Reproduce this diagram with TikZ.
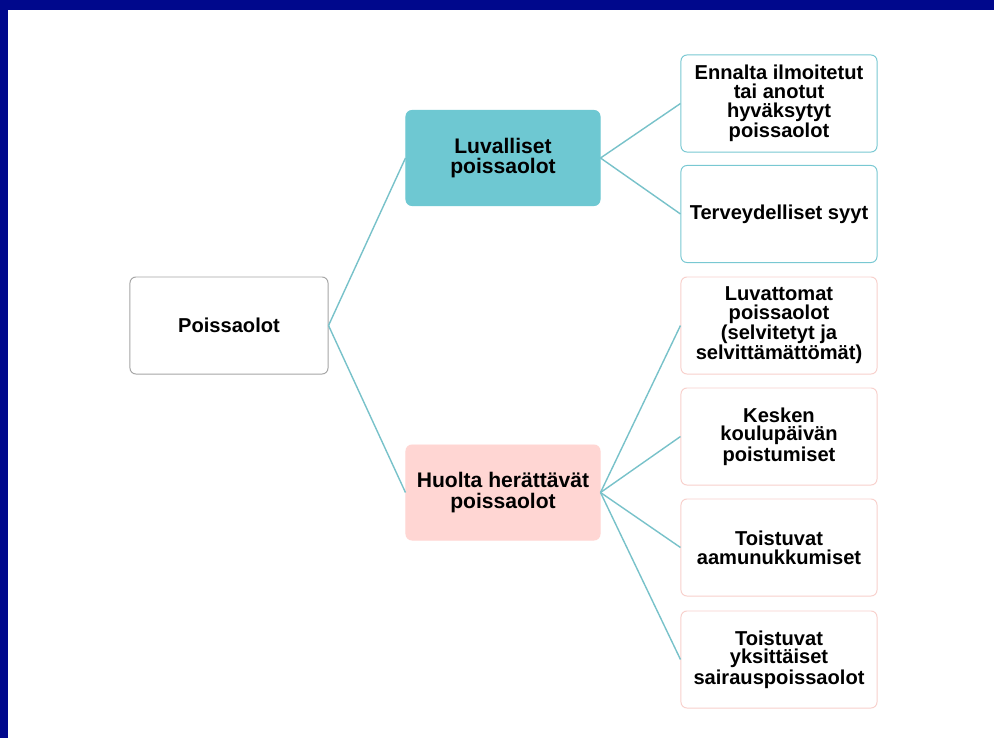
\documentclass[tikz,border=0pt]{standalone}
\usepackage{fontspec}
\setmainfont{Liberation Sans}
\usetikzlibrary{positioning}

\definecolor{navyband}{RGB}{0,8,140}
\definecolor{tealfill}{RGB}{110,200,210}
\definecolor{tealline}{RGB}{120,194,202}
\definecolor{tealedge}{RGB}{120,200,210}
\definecolor{pinkfill}{RGB}{255,214,211}
\definecolor{pinkedge}{RGB}{248,208,204}
\definecolor{grayedge}{RGB}{165,165,165}

\begin{document}
\begin{tikzpicture}[%
    x=0.025cm, y=-0.025cm,      % pixel grid, y going down
    font=\fontsize{14.3}{13.3}\selectfont\bfseries
    ]

\tikzset{
    base/.style={draw, rounded corners=0.15cm, align=center, line width=0.7pt},
    root/.style={base, draw=grayedge, fill=white, minimum width=4.95cm, minimum height=2.425cm},
    mid/.style={base, font=\fontsize{15}{14.7}\selectfont\bfseries, minimum width=4.85cm, minimum height=2.375cm},
    okbox/.style={mid, draw=tealfill, fill=tealfill},
    warnbox/.style={mid, draw=pinkfill, fill=pinkfill},
    okleaf/.style={base, draw=tealedge, fill=white, minimum width=4.9cm, minimum height=2.425cm},
    warnleaf/.style={base, draw=pinkedge, fill=white, minimum width=4.9cm, minimum height=2.425cm},
    % connectors
    link/.style={draw=tealline, line width=1pt}
}

%% Background and frame
\fill [white] (0,0) rectangle (994,738);
\fill [navyband] (0,0) rectangle (994,10);
\fill [navyband] (0,0) rectangle (8,738);
\useasboundingbox (0,0) rectangle (994,738);

%% Root
\node [root] (absence) at (229,325.5) {Poissaolot};

%% Middle
\node [okbox] (allowed) at (503,158) {Luvalliset\\poissaolot};
\node [warnbox] (concern) at (503,492.5) {Huolta herättävät\\poissaolot};
    \draw [link] (absence.east) -- (allowed.west);
    \draw [link] (absence.east) -- (concern.west);

%% Right column, allowed
\node [okleaf] (notified) at (779,103.5) {Ennalta ilmoitetut\\tai anotut\\hyväksytyt\\poissaolot};
\node [okleaf] (health) at (779,214) {Terveydelliset syyt};
    \draw [link] (allowed.east) -- (notified.west);
    \draw [link] (allowed.east) -- (health.west);

%% Right column, concern
\node [warnleaf] (unexcused) at (779,325.5) {Luvattomat\\poissaolot\\(selvitetyt ja\\selvittämättömät)};
\node [warnleaf] (leaving) at (779,436.5) {Kesken\\koulupäivän\\poistumiset};
\node [warnleaf] (late) at (779,547.5) {Toistuvat\\aamunukkumiset};
\node [warnleaf] (sick) at (779,659.5) {Toistuvat\\yksittäiset\\sairauspoissaolot};
    \foreach \leaf in {unexcused,leaving,late,sick}
        \draw [link] (concern.east) -- (\leaf.west);
\end{tikzpicture}
\end{document}
